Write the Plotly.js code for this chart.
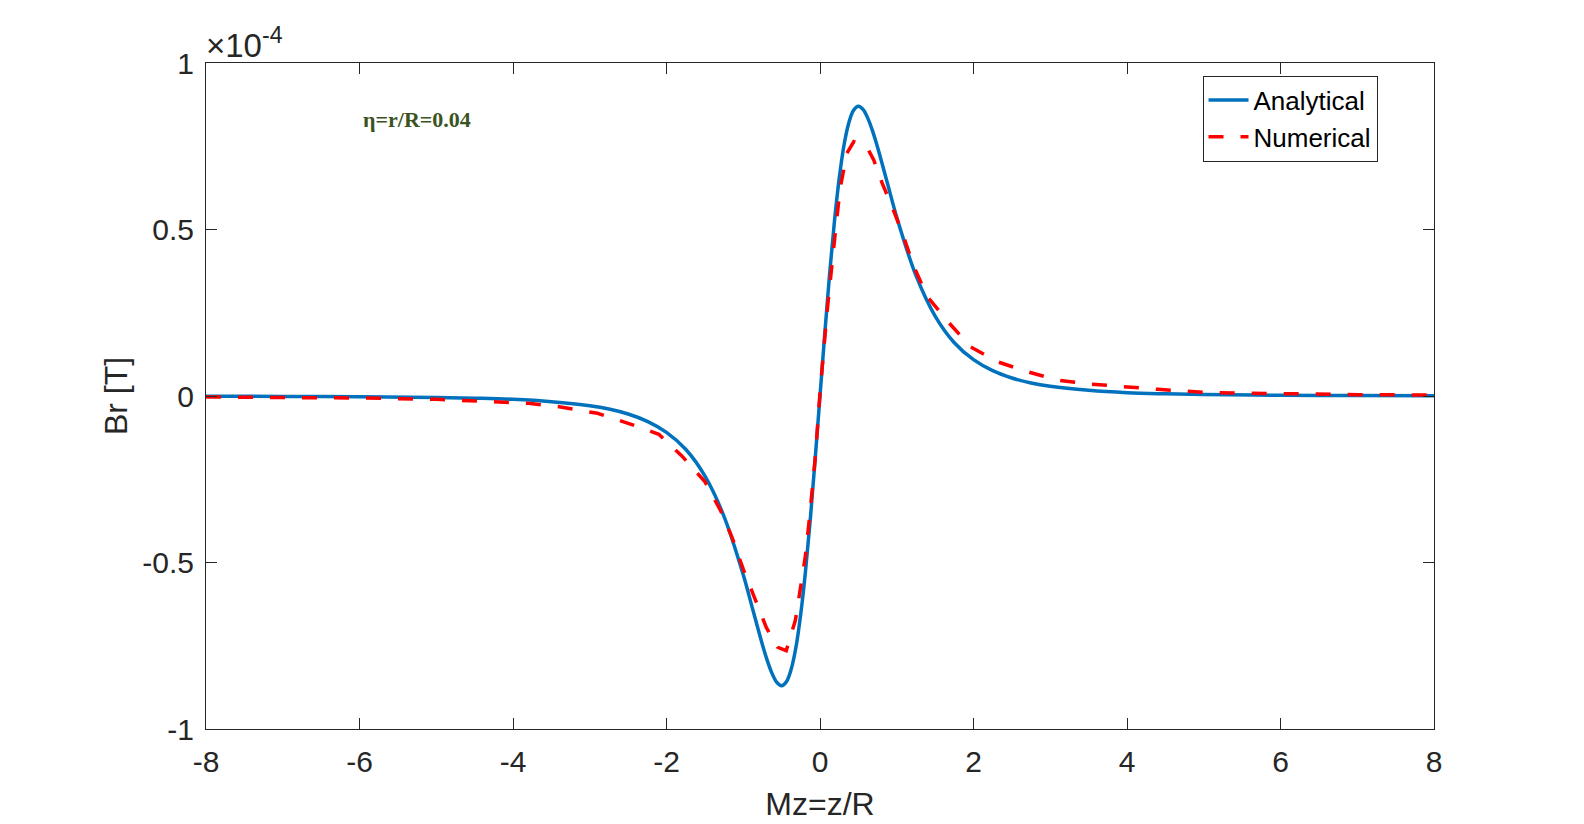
<!DOCTYPE html>
<html>
<head>
<meta charset="utf-8">
<script src="https://cdn.plot.ly/plotly-3.0.1.min.js"></script>
<style>html,body{margin:0;padding:0;background:#fff;}#chart{width:1584px;height:824px;}</style>
</head>
<body>
<div id="chart"></div>
<script>
// Values in units of 1e-4 T
const analyticalX = [-8,-7,-6,-5,-4.5,-4,-3.5,-3,-2.75,-2.5,-2.25,-2,-1.75,-1.5,-1.25,-1,-0.875,-0.75,-0.6875,-0.625,-0.5625,-0.5,-0.4375,-0.375,-0.3125,-0.25,-0.1875,-0.125,-0.0625,0,0.0625,0.125,0.1875,0.25,0.3125,0.375,0.4375,0.5,0.5625,0.625,0.6875,0.75,0.875,1,1.25,1.5,1.75,2,2.25,2.5,2.75,3,3.5,4,4.5,5,6,7,8];
const analyticalY = [-0.0007,-0.0012,-0.0022,-0.0044,-0.0066,-0.010,-0.017,-0.029,-0.039,-0.054,-0.076,-0.109,-0.160,-0.240,-0.362,-0.537,-0.642,-0.747,-0.794,-0.833,-0.860,-0.870,-0.858,-0.820,-0.753,-0.653,-0.523,-0.366,-0.188,0,0.188,0.366,0.523,0.653,0.753,0.820,0.858,0.870,0.860,0.833,0.794,0.747,0.642,0.537,0.362,0.240,0.160,0.109,0.076,0.054,0.039,0.029,0.017,0.010,0.0066,0.0044,0.0022,0.0012,0.0007];

const numericalX = [-8,-7,-6,-5,-4.2,-3.8,-3.4,-2.9,-2.5,-2.1,-1.8,-1.5,-1.3,-1.15,-1.0,-0.84,-0.7,-0.55,-0.44,-0.32,-0.26,-0.19,-0.13,-0.06,0,0.09,0.18,0.26,0.35,0.44,0.6,0.7,0.81,0.94,1.09,1.22,1.4,1.66,1.96,2.31,2.7,3.09,3.52,3.96,4.4,5.1,6,7,8];
const numericalY = [-0.003,-0.004,-0.006,-0.010,-0.017,-0.022,-0.032,-0.052,-0.082,-0.115,-0.180,-0.257,-0.342,-0.422,-0.520,-0.613,-0.695,-0.755,-0.765,-0.673,-0.590,-0.480,-0.350,-0.180,0.010,0.248,0.448,0.620,0.729,0.764,0.752,0.709,0.639,0.568,0.478,0.390,0.298,0.225,0.148,0.103,0.073,0.048,0.036,0.028,0.020,0.010,0.006,0.004,0.003];

const xTicks = [-8,-6,-4,-2,0,2,4,6,8];
const yTicks = [-1,-0.5,0,0.5,1];
const yTickLabels = ['-1','-0.5','0','0.5','1'];

const traces = [
  {x: analyticalX, y: analyticalY, name: 'Analytical', type: 'scatter', mode: 'lines',
   line: {color: '#0072BD', width: 3.5, shape: 'spline', smoothing: 1}},
  {x: numericalX, y: numericalY, name: 'Numerical', type: 'scatter', mode: 'lines',
   line: {color: '#FF0000', width: 3.5, dash: '15px,17px'}}
];

const fontFam = 'Liberation Sans, Arial, Helvetica, sans-serif';
const layout = {
  width: 1584, height: 824,
  margin: {l: 206, r: 150, t: 63, b: 95},
  paper_bgcolor: '#fff', plot_bgcolor: '#fff',
  showlegend: true,
  legend: {x: 0.954, y: 0.981, xanchor: 'right', yanchor: 'top',
           bordercolor: '#262626', borderwidth: 1, bgcolor: '#fff',
           font: {family: fontFam, size: 26, color: '#000'},
           tracegroupgap: 0, itemwidth: 40},
  xaxis: {range: [-8, 8], tickvals: xTicks, ticktext: xTicks.map(String),
          ticks: 'inside', ticklen: 11, tickcolor: '#262626', tickwidth: 1,
          showline: true, linecolor: '#262626', linewidth: 1, mirror: 'ticks',
          showgrid: false, zeroline: false, ticklabelstandoff: 6,
          tickfont: {family: fontFam, size: 30, color: '#262626'},
          title: {text: 'Mz=z/R', font: {family: fontFam, size: 32, color: '#262626'}, standoff: 15}},
  yaxis: {range: [-1, 1], tickvals: yTicks, ticktext: yTickLabels,
          ticks: 'inside', ticklen: 11, tickcolor: '#262626', tickwidth: 1,
          showline: true, linecolor: '#262626', linewidth: 1, mirror: 'ticks',
          showgrid: false, zeroline: false, ticklabelstandoff: 5,
          tickfont: {family: fontFam, size: 30, color: '#262626'},
          title: {text: 'Br [T]', font: {family: fontFam, size: 32, color: '#262626'}, standoff: 5}},
  annotations: [
    {xref: 'paper', yref: 'paper', x: 0, y: 1, xanchor: 'left', yanchor: 'bottom',
     xshift: -2, yshift: -3, showarrow: false,
     text: '×10<sup>-4</sup>', font: {family: fontFam, size: 33, color: '#262626'}},
    {xref: 'x', yref: 'y', x: -5.98, y: 0.83, xanchor: 'left', yanchor: 'middle', showarrow: false,
     text: '<b>η=r/R=0.04</b>', font: {family: 'Liberation Serif, Times New Roman, serif', size: 22, color: '#3B5323'}}
  ]
};

Plotly.newPlot('chart', traces, layout, {displayModeBar: false, staticPlot: true});
</script>
</body>
</html>
